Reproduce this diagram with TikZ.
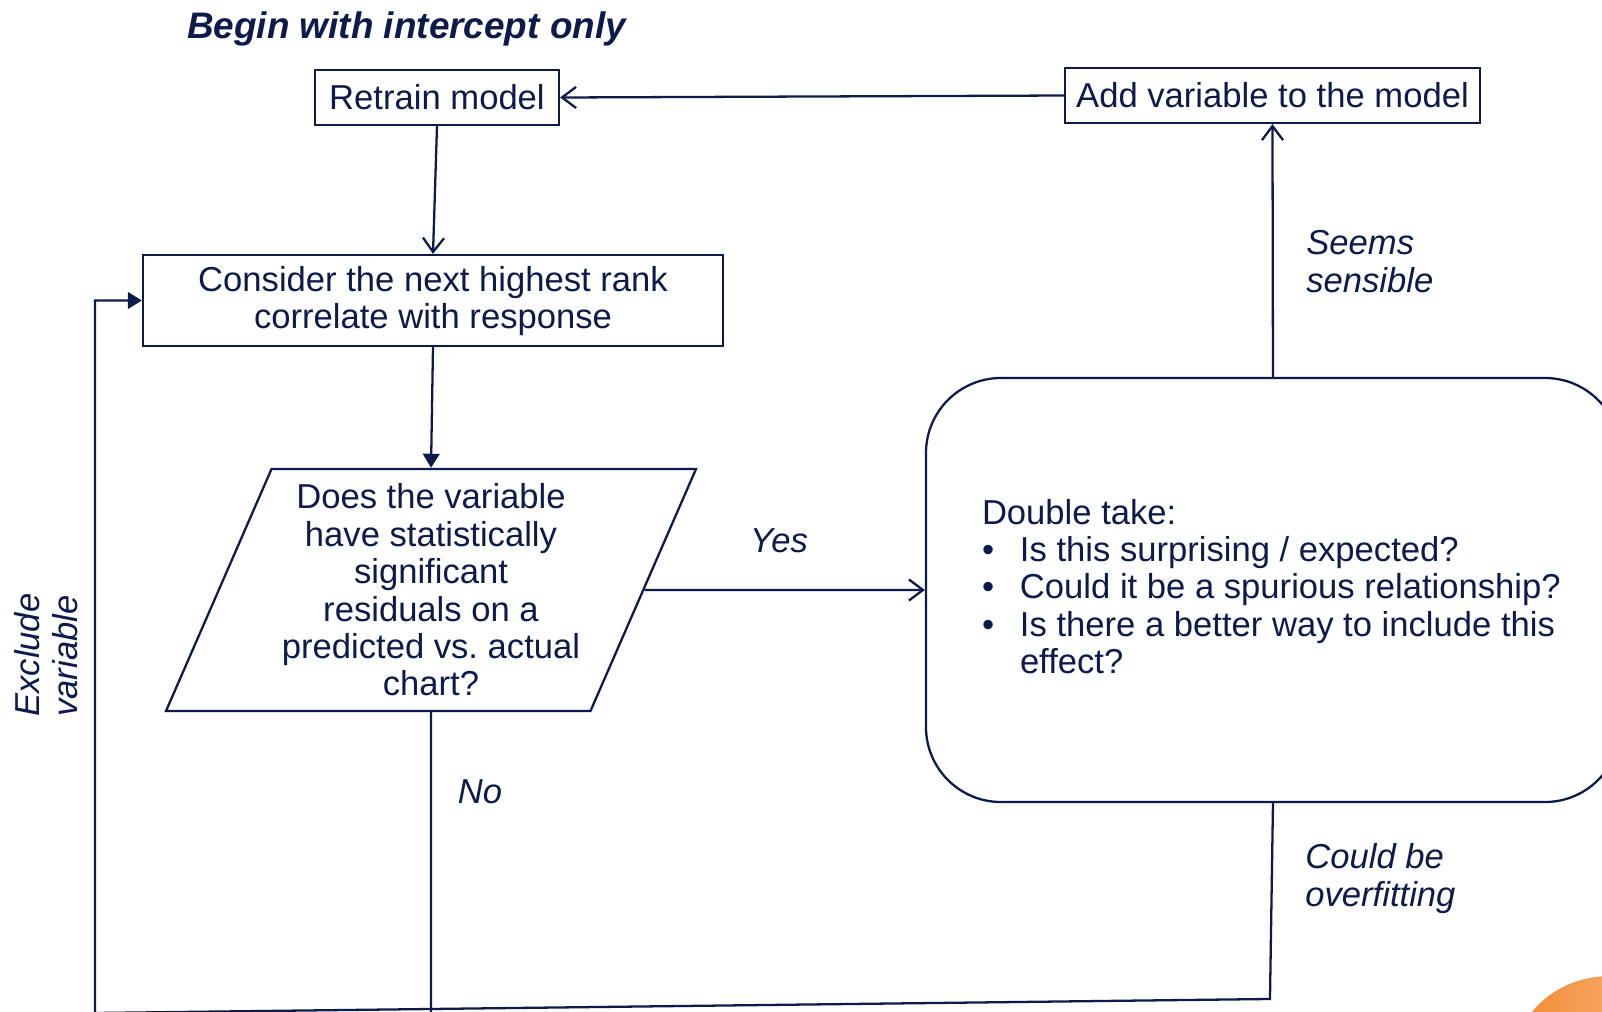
\documentclass[tikz,border=0pt]{standalone}
\usepackage{fontspec}
\setmainfont{Liberation Sans}
\usetikzlibrary{arrows.meta,shapes.geometric}
\definecolor{navy}{RGB}{13,27,75}
\definecolor{blobdark}{RGB}{242,138,52}
\definecolor{bloblight}{RGB}{250,192,142}
\newcommand{\chartsize}{\fontsize{19.7pt}{21.3pt}\selectfont}
\newcommand{\titlesize}{\fontsize{21pt}{25pt}\selectfont}
\tikzset{
  box/.style={draw=navy, line width=1.3pt, text=navy, inner sep=0pt, align=center, font=\chartsize},
  question/.style={box, trapezium, trapezium left angle=63.6, trapezium right angle=116.4, trapezium stretches body},
  remark/.style={text=navy, inner sep=0pt, align=left, font=\chartsize\itshape},
  wire/.style={draw=navy, line width=1.3pt},
  flow/.style={wire, -{Straight Barb[length=8pt,width=12pt]}},
  solidflow/.style={wire, -{Triangle[length=8pt,width=9.5pt]}}
}
\begin{document}
\begin{tikzpicture}[scale=0.2]
\useasboundingbox (0,0) rectangle (160.2,-101.1);
\clip (0,0) rectangle (160.2,-101.1);
% title
\node [remark, font=\titlesize\bfseries\itshape] (title) at (40.65,-2.9) {Begin with intercept only};
% boxes
\node [box, minimum width=4.88cm, minimum height=1.1cm] (retrain) at (43.7,-9.75) {Retrain model};
\node [box, minimum width=11.6cm, minimum height=1.82cm] (consider) at (43.3,-30.05) {};
\node [text=navy, inner sep=0pt, align=center, font=\chartsize] (considertext) at ([yshift=-0.06cm]consider.center) {Consider the next highest rank\\correlate with response};
\node [box, minimum width=8.3cm, minimum height=1.1cm] (add) at (127.25,-9.55) {Add variable to the model};
\node [question, minimum width=10.6cm, minimum height=4.84cm] (test) at (43.1,-59.0) {Does the variable\\have statistically\\significant\\residuals on a\\predicted vs.\ actual\\chart?};
\node [box, rounded corners=1.5cm, minimum width=13.88cm, minimum height=8.48cm] (double) at (127.3,-59.0) {};
\node [text=navy, inner sep=0pt, font=\chartsize] (doubletext) at ([xshift=-0.16cm, yshift=-0.14cm]double.center) {%
\begin{tabular}{@{}l@{}l@{}}
\multicolumn{2}{@{}l@{}}{Double take:}\\
\makebox[0.76cm][l]{\textbullet} & Is this surprising / expected?\\
\makebox[0.76cm][l]{\textbullet} & Could it be a spurious relationship?\\
\makebox[0.76cm][l]{\textbullet} & Is there a better way to include this\\
 & effect?
\end{tabular}};
% loop ends
\coordinate (overfoot) at (127.0,-99.9);
\coordinate (corner) at (9.5,-101.3);
\coordinate (nofoot) at (43.1,-101.2);
% labels
\node [remark] (yes) at (77.9,-54.1) {Yes};
\node [remark] (no) at (48.0,-79.2) {No};
\node [remark, anchor=west] (sensible) at (130.6,-26.15) {Seems\\sensible};
\node [remark, anchor=west] (overfit) at (130.5,-87.85) {Could be\\overfitting};
\node [remark, rotate=90, anchor=west] (exclude) at (4.6,-71.7) {Exclude\\variable};
% connectors
\draw [flow] (add.west) -- (retrain.east);
\draw [flow] (retrain.south) -- (consider.north);
\draw [solidflow] (consider.south) -- (test.north);
\draw [flow] (test.east) -- (double.west);
\draw [flow] (double.north) -- (add.south);
\draw [wire] (test.south) -- (nofoot);
\draw [solidflow] (double.south) -- (overfoot) -- (corner) |- (consider.west);
% corner blob
\shade [left color=blobdark, right color=bloblight] (161.0,-106.0) ellipse [x radius=9.5, y radius=8.4];
\end{tikzpicture}
\end{document}
